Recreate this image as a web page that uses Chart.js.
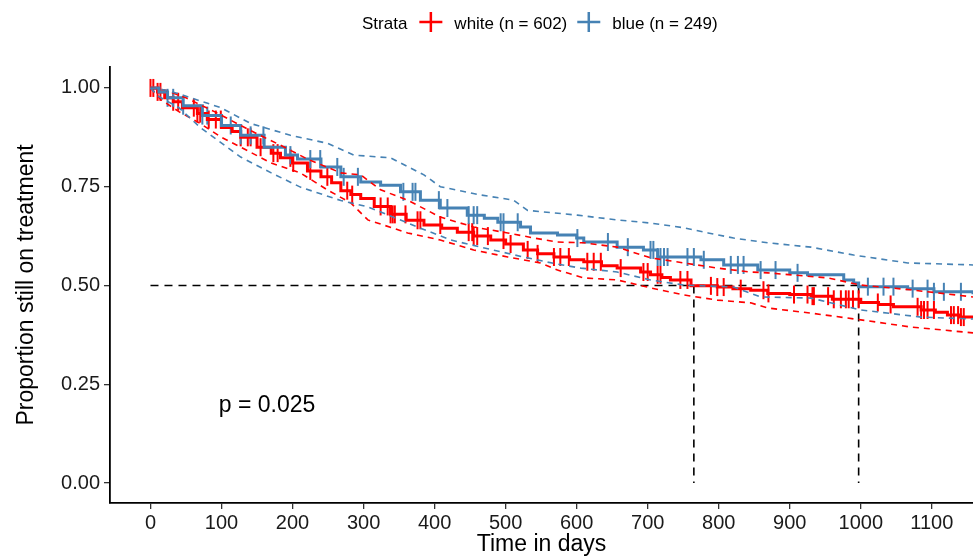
<!DOCTYPE html>
<html>
<head>
<meta charset="utf-8">
<script src="https://cdn.jsdelivr.net/npm/chart.js@4.4.1/dist/chart.umd.min.js"></script>
<style>
  html, body { margin: 0; padding: 0; background: #fff; }
  #wrap { width: 973px; height: 558px; position: relative; }
</style>
</head>
<body>
<div id="wrap"><canvas id="kmChart" width="973" height="558"></canvas></div>
<script>
// Kaplan-Meier estimates (days, proportion)
const redDays = [0, 10, 20, 32, 45, 66, 80, 100, 115, 127, 150, 170, 183, 200, 221, 240, 255, 268, 282, 296, 315, 338, 360, 385, 410, 432, 455, 479, 500, 525, 545, 568, 590, 610, 635, 657, 690, 704, 720, 732, 761, 798, 820, 845, 869, 900, 930, 960, 1000, 1025, 1046, 1085, 1105, 1122, 1140, 1158];
const redSurv = [1.00, 0.99, 0.975, 0.965, 0.95, 0.935, 0.92, 0.90, 0.89, 0.875, 0.85, 0.835, 0.823, 0.81, 0.79, 0.775, 0.76, 0.74, 0.73, 0.72, 0.70, 0.68, 0.665, 0.653, 0.645, 0.635, 0.625, 0.615, 0.605, 0.59, 0.58, 0.572, 0.565, 0.56, 0.55, 0.544, 0.534, 0.527, 0.52, 0.514, 0.499, 0.496, 0.492, 0.488, 0.48, 0.477, 0.473, 0.465, 0.457, 0.452, 0.446, 0.438, 0.432, 0.425, 0.42, 0.418];

const blueDays = [0, 12, 24, 46, 73, 100, 127, 160, 190, 207, 240, 268, 296, 324, 352, 380, 408, 446, 470, 489, 521, 535, 573, 600, 610, 657, 694, 714, 775, 807, 855, 900, 925, 976, 990, 997, 1066, 1103, 1158];
const blueSurv = [1.00, 0.99, 0.975, 0.955, 0.93, 0.905, 0.88, 0.85, 0.83, 0.82, 0.80, 0.775, 0.762, 0.754, 0.737, 0.716, 0.696, 0.678, 0.67, 0.66, 0.648, 0.633, 0.628, 0.62, 0.61, 0.597, 0.59, 0.572, 0.565, 0.552, 0.539, 0.532, 0.527, 0.514, 0.506, 0.497, 0.492, 0.484, 0.478];

// confidence bands
const redUpDays = [0, 20, 50, 90, 127, 160, 183, 221, 268, 296, 324, 362, 408, 455, 503, 540, 573, 610, 657, 704, 751, 798, 845, 869, 954, 1000, 1070, 1158];
const redUp = [1.00, 0.995, 0.975, 0.94, 0.905, 0.875, 0.855, 0.82, 0.785, 0.78, 0.742, 0.716, 0.673, 0.648, 0.633, 0.62, 0.61, 0.608, 0.597, 0.57, 0.557, 0.544, 0.534, 0.532, 0.519, 0.501, 0.489, 0.471];
const redLoDays = [0, 15, 40, 70, 100, 127, 170, 211, 249, 282, 306, 362, 408, 455, 503, 549, 573, 610, 657, 704, 751, 798, 845, 869, 930, 1000, 1070, 1158];
const redLo = [1.00, 0.97, 0.94, 0.91, 0.875, 0.85, 0.81, 0.785, 0.742, 0.709, 0.666, 0.633, 0.615, 0.59, 0.572, 0.557, 0.539, 0.519, 0.514, 0.494, 0.476, 0.463, 0.456, 0.443, 0.43, 0.413, 0.395, 0.38];

const blueUpDays = [0, 20, 40, 99, 141, 197, 249, 286, 338, 385, 408, 465, 511, 531, 601, 657, 704, 751, 785, 821, 869, 930, 990, 1066, 1158];
const blueUp = [1.00, 0.995, 0.985, 0.95, 0.91, 0.88, 0.86, 0.83, 0.823, 0.78, 0.75, 0.729, 0.716, 0.69, 0.678, 0.666, 0.658, 0.646, 0.633, 0.62, 0.608, 0.597, 0.577, 0.557, 0.552];
const blueLoDays = [0, 10, 40, 70, 127, 170, 211, 268, 306, 342, 380, 423, 470, 525, 570, 606, 657, 704, 751, 821, 859, 930, 1000, 1085, 1158];
const blueLo = [1.00, 0.98, 0.95, 0.90, 0.825, 0.785, 0.749, 0.715, 0.699, 0.673, 0.645, 0.615, 0.595, 0.572, 0.555, 0.544, 0.534, 0.514, 0.501, 0.496, 0.471, 0.468, 0.438, 0.42, 0.415];

// censoring times (days)
const redCensor = [0, 4, 10, 14, 32, 39, 61, 66, 70, 82, 92, 99, 127, 137, 141, 155, 173, 179, 197, 201, 225, 249, 277, 284, 324, 334, 338, 341, 344, 359, 376, 380, 408, 448, 453, 455, 460, 475, 497, 507, 531, 545, 568, 577, 589, 615, 624, 634, 662, 694, 700, 714, 718, 746, 756, 789, 798, 807, 831, 863, 870, 906, 925, 932, 934, 954, 962, 972, 979, 983, 989, 997, 1024, 1042, 1080, 1085, 1089, 1094, 1103, 1127, 1131, 1137, 1141, 1145];
const blueCensor = [24, 32, 46, 73, 80, 113, 127, 141, 159, 197, 225, 239, 263, 272, 292, 356, 369, 373, 406, 418, 448, 455, 460, 493, 497, 517, 601, 644, 672, 704, 708, 714, 718, 723, 728, 756, 765, 779, 817, 827, 835, 859, 880, 911, 1010, 1032, 1046, 1073, 1094, 1103, 1117, 1141];

// median survival
const medianLevel = 0.5;
const medianDays = [765, 997];

const xTicks = [0, 100, 200, 300, 400, 500, 600, 700, 800, 900, 1000, 1100];
const yTicks = [0, 0.25, 0.5, 0.75, 1];
const legendLabels = ['white (n = 602)', 'blue (n = 249)'];
const pLabel = 'p = 0.025';
const pPos = { x: 164, y: 0.18 };

const RED = '#FF0000';
const BLUE = '#4682B4';
const FONT = '"Liberation Sans", Arial, Helvetica, sans-serif';

function zip(xs, ys) { return xs.map((x, i) => ({ x: x, y: ys[i] })); }
function stepAt(xs, ys, t) {
  let v = ys[0];
  for (let i = 0; i < xs.length; i++) { if (xs[i] <= t) v = ys[i]; else break; }
  return v;
}

function ciSet(xs, ys, color) {
  return { data: zip(xs, ys), borderColor: color, borderWidth: 1.6, borderDash: [6, 5],
    pointRadius: 0, fill: false };
}
function censorSet(days, xs, ys, color) {
  return { type: 'scatter', data: days.map(d => ({ x: d, y: stepAt(xs, ys, d) })),
    pointStyle: 'line', rotation: 90, pointRadius: 9, borderColor: color, borderWidth: 2,
    backgroundColor: color, showLine: false };
}
function medianSet(pts) {
  return { data: pts, borderColor: '#000', borderWidth: 1.6, borderDash: [8, 6], pointRadius: 0, fill: false };
}

const datasets = [
  ciSet(blueUpDays, blueUp, BLUE),
  ciSet(blueLoDays, blueLo, BLUE),
  ciSet(redUpDays, redUp, RED),
  ciSet(redLoDays, redLo, RED),
  { data: zip(blueDays, blueSurv), borderColor: BLUE, borderWidth: 3, stepped: true, pointRadius: 0 },
  { data: zip(redDays, redSurv), borderColor: RED, borderWidth: 3, stepped: true, pointRadius: 0 },
  censorSet(blueCensor, blueDays, blueSurv, BLUE),
  censorSet(redCensor, redDays, redSurv, RED),
  medianSet([{ x: 0, y: medianLevel }, { x: medianDays[1], y: medianLevel }]),
  medianSet([{ x: medianDays[0], y: medianLevel }, { x: medianDays[0], y: 0 }]),
  medianSet([{ x: medianDays[1], y: medianLevel }, { x: medianDays[1], y: 0 }])
];

const extras = {
  id: 'extras',
  afterDraw(chart) {
    const ctx = chart.ctx;
    const xs = chart.scales.x, ys = chart.scales.y;
    ctx.save();
    // p value
    ctx.fillStyle = '#000';
    ctx.font = '23px ' + FONT;
    ctx.textAlign = 'center';
    ctx.textBaseline = 'alphabetic';
    ctx.fillText(pLabel, xs.getPixelForValue(pPos.x), ys.getPixelForValue(pPos.y));
    // legend
    ctx.font = '17px ' + FONT;
    ctx.textAlign = 'left';
    const base = 29;
    let x = 362;
    ctx.fillText('Strata', x, base);
    x += ctx.measureText('Strata').width + 12;
    [RED, BLUE].forEach((c, i) => {
      ctx.strokeStyle = c;
      ctx.lineWidth = 2.5;
      ctx.beginPath();
      ctx.moveTo(x, 22); ctx.lineTo(x + 23, 22);
      ctx.moveTo(x + 11.5, 12); ctx.lineTo(x + 11.5, 32);
      ctx.stroke();
      x += 35;
      ctx.fillText(legendLabels[i], x, base);
      x += ctx.measureText(legendLabels[i]).width + 10;
    });
    ctx.restore();
  }
};

new Chart(document.getElementById('kmChart').getContext('2d'), {
  type: 'line',
  data: { datasets: datasets },
  plugins: [extras],
  options: {
    responsive: false,
    animation: false,
    events: [],
    layout: { autoPadding: false, padding: { top: 67, right: 0, bottom: 0, left: 0 } },
    plugins: { legend: { display: false }, tooltip: { enabled: false } },
    scales: {
      x: {
        type: 'linear',
        min: -57,
        max: 1158,
        afterBuildTicks: s => { s.ticks = xTicks.map(v => ({ value: v })); },
        afterFit: s => { s.height = 55; s.paddingLeft = 0; s.paddingRight = 0; },
        ticks: { color: '#1a1a1a', font: { size: 20, family: FONT }, padding: 2, maxRotation: 0, autoSkip: false, callback: v => String(v) },
        grid: { drawOnChartArea: false, drawTicks: true, tickLength: 6, color: '#333', lineWidth: 1.3 },
        border: { color: '#000', width: 1.8 },
        title: { display: true, text: 'Time in days', color: '#000', font: { size: 23, family: FONT }, padding: { top: 0, bottom: 0 } }
      },
      y: {
        type: 'linear',
        min: -0.0506,
        max: 1.053,
        afterBuildTicks: s => { s.ticks = yTicks.map(v => ({ value: v })); },
        afterFit: s => { s.width = 110; s.paddingTop = 0; s.paddingBottom = 0; },
        ticks: { color: '#1a1a1a', font: { size: 20, family: FONT }, padding: 4, callback: v => v.toFixed(2) },
        grid: { drawOnChartArea: false, drawTicks: true, tickLength: 6, color: '#333', lineWidth: 1.3 },
        border: { color: '#000', width: 1.8 },
        title: { display: true, text: 'Proportion still on treatment', color: '#000', font: { size: 23, family: FONT }, padding: { top: 13, bottom: 0 } }
      }
    }
  }
});
</script>
</body>
</html>
